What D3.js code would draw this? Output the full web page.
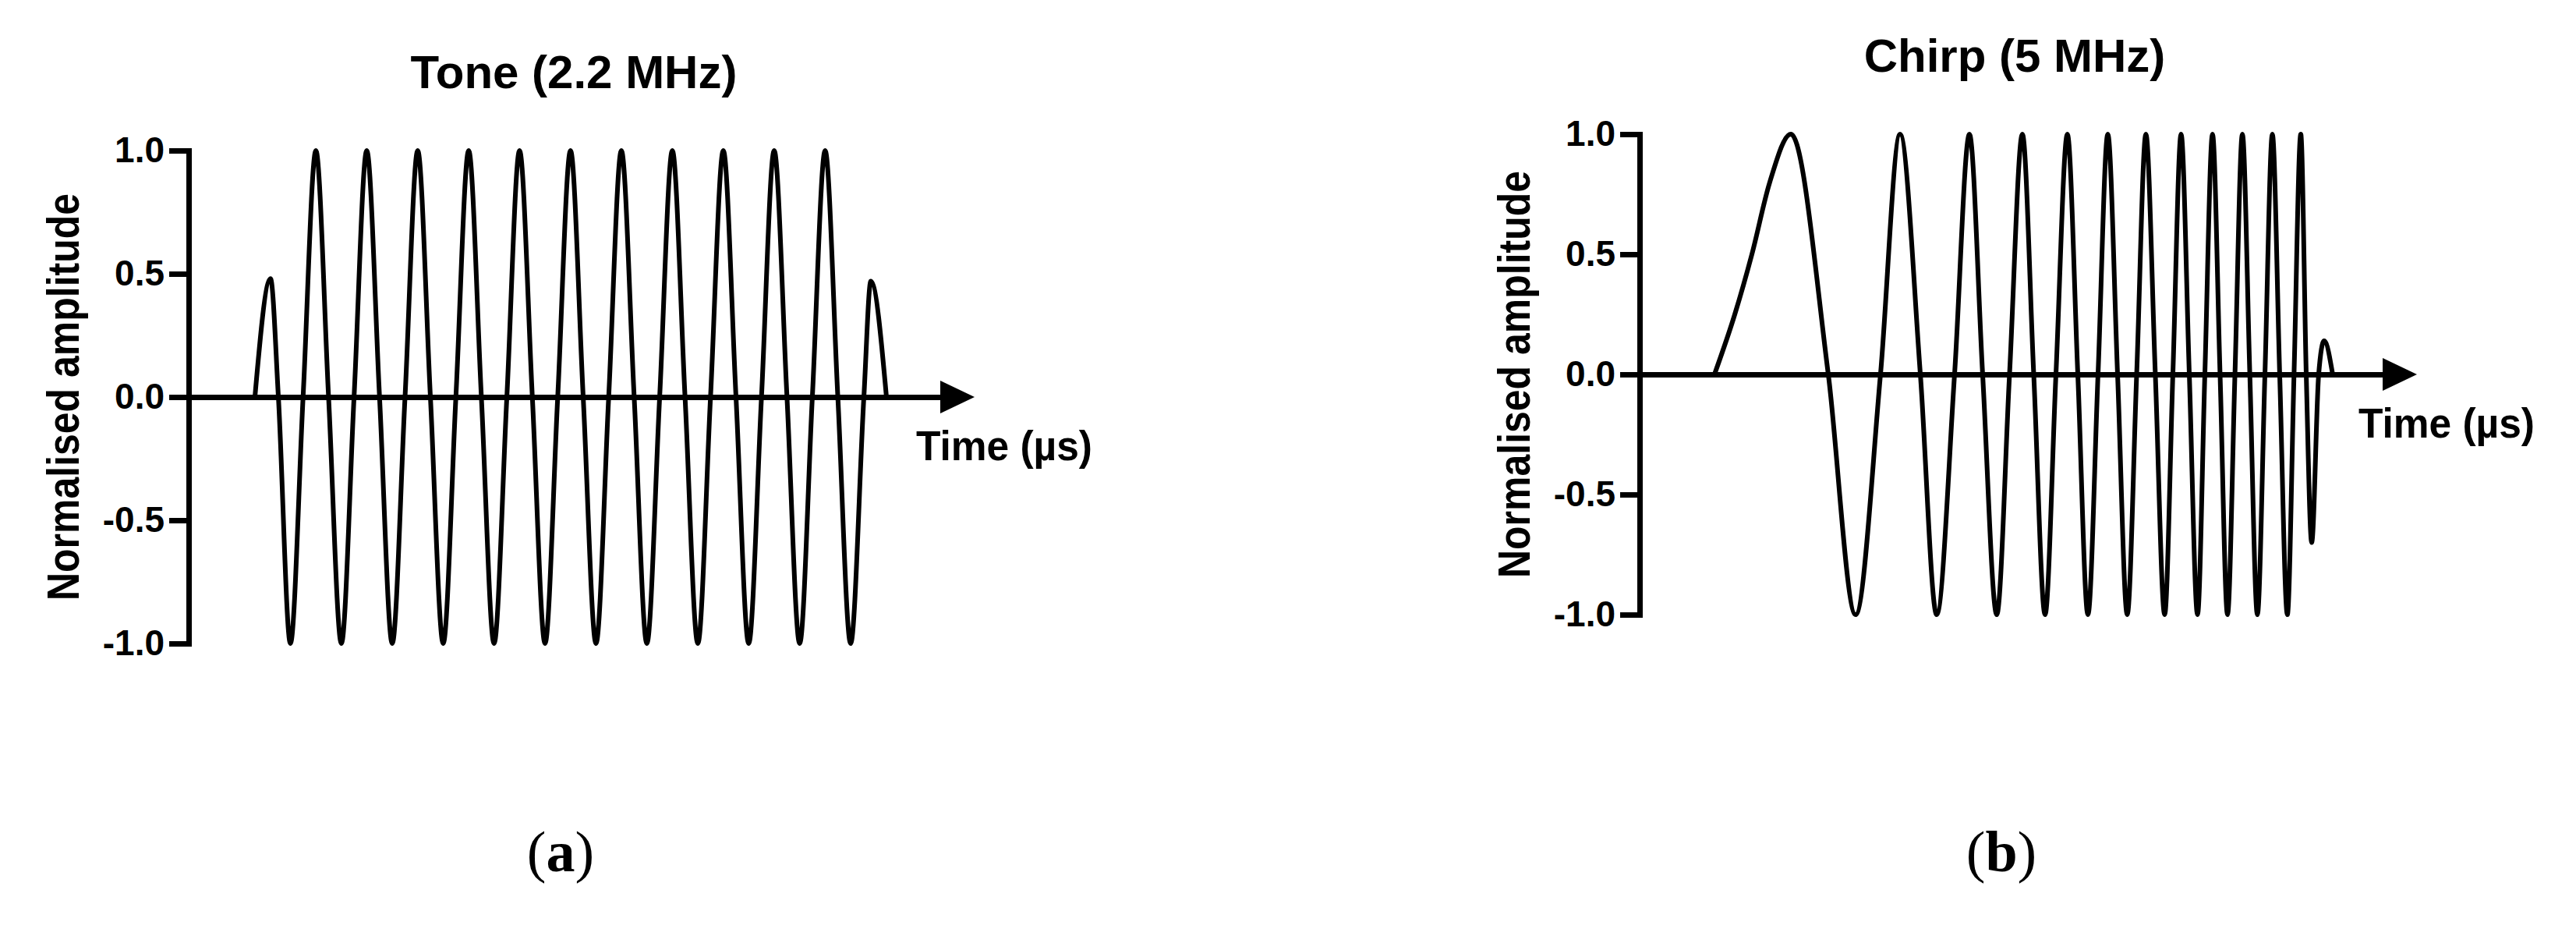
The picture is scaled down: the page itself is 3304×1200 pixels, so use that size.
<!DOCTYPE html>
<html>
<head>
<meta charset="utf-8">
<script src="https://cdnjs.cloudflare.com/ajax/libs/d3/7.8.5/d3.min.js"></script>
<style>
    body { margin: 0; background: #fff; }
    svg { display: block; background: #fff; }
    text { font-family: "Liberation Sans", Arial, sans-serif; font-weight: bold; fill: #000; }
    .panel-label { font-family: "Liberation Serif", "Times New Roman", serif; font-weight: normal; }
    .wave { fill: none; stroke: #000; stroke-width: 6; stroke-linejoin: round; }
    .axis path, .axis line { stroke: #000; stroke-width: 7; }
    .axis .domain { stroke-linecap: square; }
</style>
</head>
<body>
<svg id="figure" width="3304" height="1200"></svg>
<script>

// Tone burst, 2.2 MHz: time (µs) of each zero crossing / extreme
var toneTime = [0.590, 0.729, 0.799,
    0.906, 1.019, 1.133, 1.246, 1.360, 1.473, 1.586, 1.700, 1.813, 1.927,
    2.040, 2.153, 2.267, 2.380, 2.494, 2.607, 2.720, 2.834, 2.947, 3.061,
    3.174, 3.287, 3.401, 3.514, 3.628, 3.741, 3.854, 3.968, 4.081, 4.195,
    4.308, 4.421, 4.535, 4.648, 4.762, 4.875, 4.988, 5.102, 5.215, 5.329,
    5.442, 5.555, 5.669, 5.782, 5.896,
    6.014, 6.076, 6.215];
var toneAmp = [0, 0.48, 0,
    -1, 0, 1, 0, -1, 0, 1, 0, -1, 0,
    1, 0, -1, 0, 1, 0, -1, 0, 1, 0,
    -1, 0, 1, 0, -1, 0, 1, 0, -1, 0,
    1, 0, -1, 0, 1, 0, -1, 0, 1, 0,
    -1, 0, 1, 0, -1,
    0, 0.47, 0];

// Chirp, 5 MHz (first lobe read at a few more levels, it is wide)
var chirpTime = [0.674, 0.857, 1.011, 1.172, 1.362, 1.699, 1.945, 2.169, 2.345, 2.528, 2.675,
    2.836, 2.970, 3.089, 3.216, 3.331, 3.447, 3.549, 3.651, 3.749, 3.852,
    3.946, 4.037, 4.128, 4.216, 4.304, 4.391, 4.476, 4.559, 4.644, 4.728,
    4.802, 4.876, 4.950, 5.024, 5.090, 5.159, 5.227, 5.294, 5.361, 5.428,
    5.495, 5.563, 5.631, 5.698, 5.764, 5.833, 5.893, 5.954, 6.003, 6.052,
    6.115, 6.164, 6.241];
var chirpAmp = [0, 0.25, 0.5, 0.8, 1, 0, -1, 0, 1, 0, -1,
    0, 1, 0, -1, 0, 1, 0, -1, 0, 1,
    0, -1, 0, 1, 0, -1, 0, 1, 0, -1,
    0, 1, 0, -1, 0, 1, 0, -1, 0, 1,
    0, -1, 0, 1, 0, -1, 0, 1, 0, -0.70,
    0, 0.14, 0];

// axes
var timeDomain = [0, 7];
var ampDomain = [-1, 1];
var yTicks = [-1, -0.5, 0, 0.5, 1];
var yTickLabels = ["-1.0", "-0.5", "0.0", "0.5", "1.0"];

var titles = ["Tone (2.2 MHz)", "Chirp (5 MHz)"];
var panelLetters = ["a", "b"];
var yLabel = "Normalised amplitude";
var xLabel = "Time (µs)";


/**
 * Draw one waveform panel
 *
 * @param p layout of the panel (pixel box, title position, label position)
 */
function drawPanel(p) {

    var svg = d3.select("#figure");
    var g = svg.append("g");

    var xScale = d3.scaleLinear().domain(timeDomain).range([p.left, p.right]);
    var yScale = d3.scaleLinear().domain(ampDomain).range([p.bottom, p.top]);
    var zeroY = yScale(0);

    // y axis with the tick labels
    var yAxis = d3.axisLeft(yScale)
        .tickValues(yTicks)
        .tickFormat(function (d, i) { return yTickLabels[i]; })
        .tickSize(25)
        .tickSizeOuter(0)
        .tickPadding(6);

    g.append("g")
        .attr("class", "axis")
        .attr("transform", "translate(" + p.left + ",0)")
        .call(yAxis)
        .attr("font-size", null)
        .attr("font-family", null)
        .selectAll("text")
        .style("font-size", "46px");

    // x axis: plain line ending in an arrow, no ticks
    var xAxis = d3.axisBottom(xScale.copy().range([p.left, p.right - 30]))
        .tickValues([])
        .tickSizeOuter(0);

    g.append("g")
        .attr("class", "axis")
        .attr("transform", "translate(0," + zeroY + ")")
        .call(xAxis);

    var arrow = d3.path();
    arrow.moveTo(p.right, zeroY);
    arrow.lineTo(p.right - 44, zeroY - 21);
    arrow.lineTo(p.right - 44, zeroY + 21);
    arrow.closePath();
    g.append("path")
        .attr("d", arrow.toString())
        .attr("fill", "#000");

    // waveform
    var line = d3.line()
        .x(function (d) { return xScale(d[0]); })
        .y(function (d) { return yScale(d[1]); })
        .curve(d3.curveMonotoneX);

    g.append("path")
        .datum(d3.zip(p.time, p.amp))
        .attr("class", "wave")
        .attr("d", line);

    // texts
    g.append("text")
        .attr("x", p.titleX)
        .attr("y", p.top - 80)
        .attr("text-anchor", "middle")
        .style("font-size", "60px")
        .text(p.title);

    g.append("text")
        .attr("x", p.right - 75)
        .attr("y", zeroY + 81)
        .attr("textLength", 226)
        .attr("lengthAdjust", "spacingAndGlyphs")
        .style("font-size", "54px")
        .text(xLabel);

    g.append("text")
        .attr("transform", "translate(" + (p.left - 141) + "," + ((p.top + p.bottom) / 2) + ") rotate(-90)")
        .attr("text-anchor", "middle")
        .attr("textLength", 522)
        .attr("lengthAdjust", "spacingAndGlyphs")
        .style("font-size", "58px")
        .text(yLabel);

    var lab = g.append("text")
        .attr("class", "panel-label")
        .attr("x", p.labelX)
        .attr("y", 1117)
        .attr("text-anchor", "middle")
        .style("font-size", "74px");
    lab.append("tspan").text("(");
    lab.append("tspan").style("font-weight", "bold").text(p.letter);
    lab.append("tspan").text(")");
}

drawPanel({
    left: 242, right: 1250, top: 193, bottom: 825,
    titleX: 736, labelX: 719,
    title: titles[0], letter: panelLetters[0],
    time: toneTime, amp: toneAmp
});

drawPanel({
    left: 2103, right: 3100, top: 172, bottom: 788,
    titleX: 2584, labelX: 2567,
    title: titles[1], letter: panelLetters[1],
    time: chirpTime, amp: chirpAmp
});

</script>
</body>
</html>
